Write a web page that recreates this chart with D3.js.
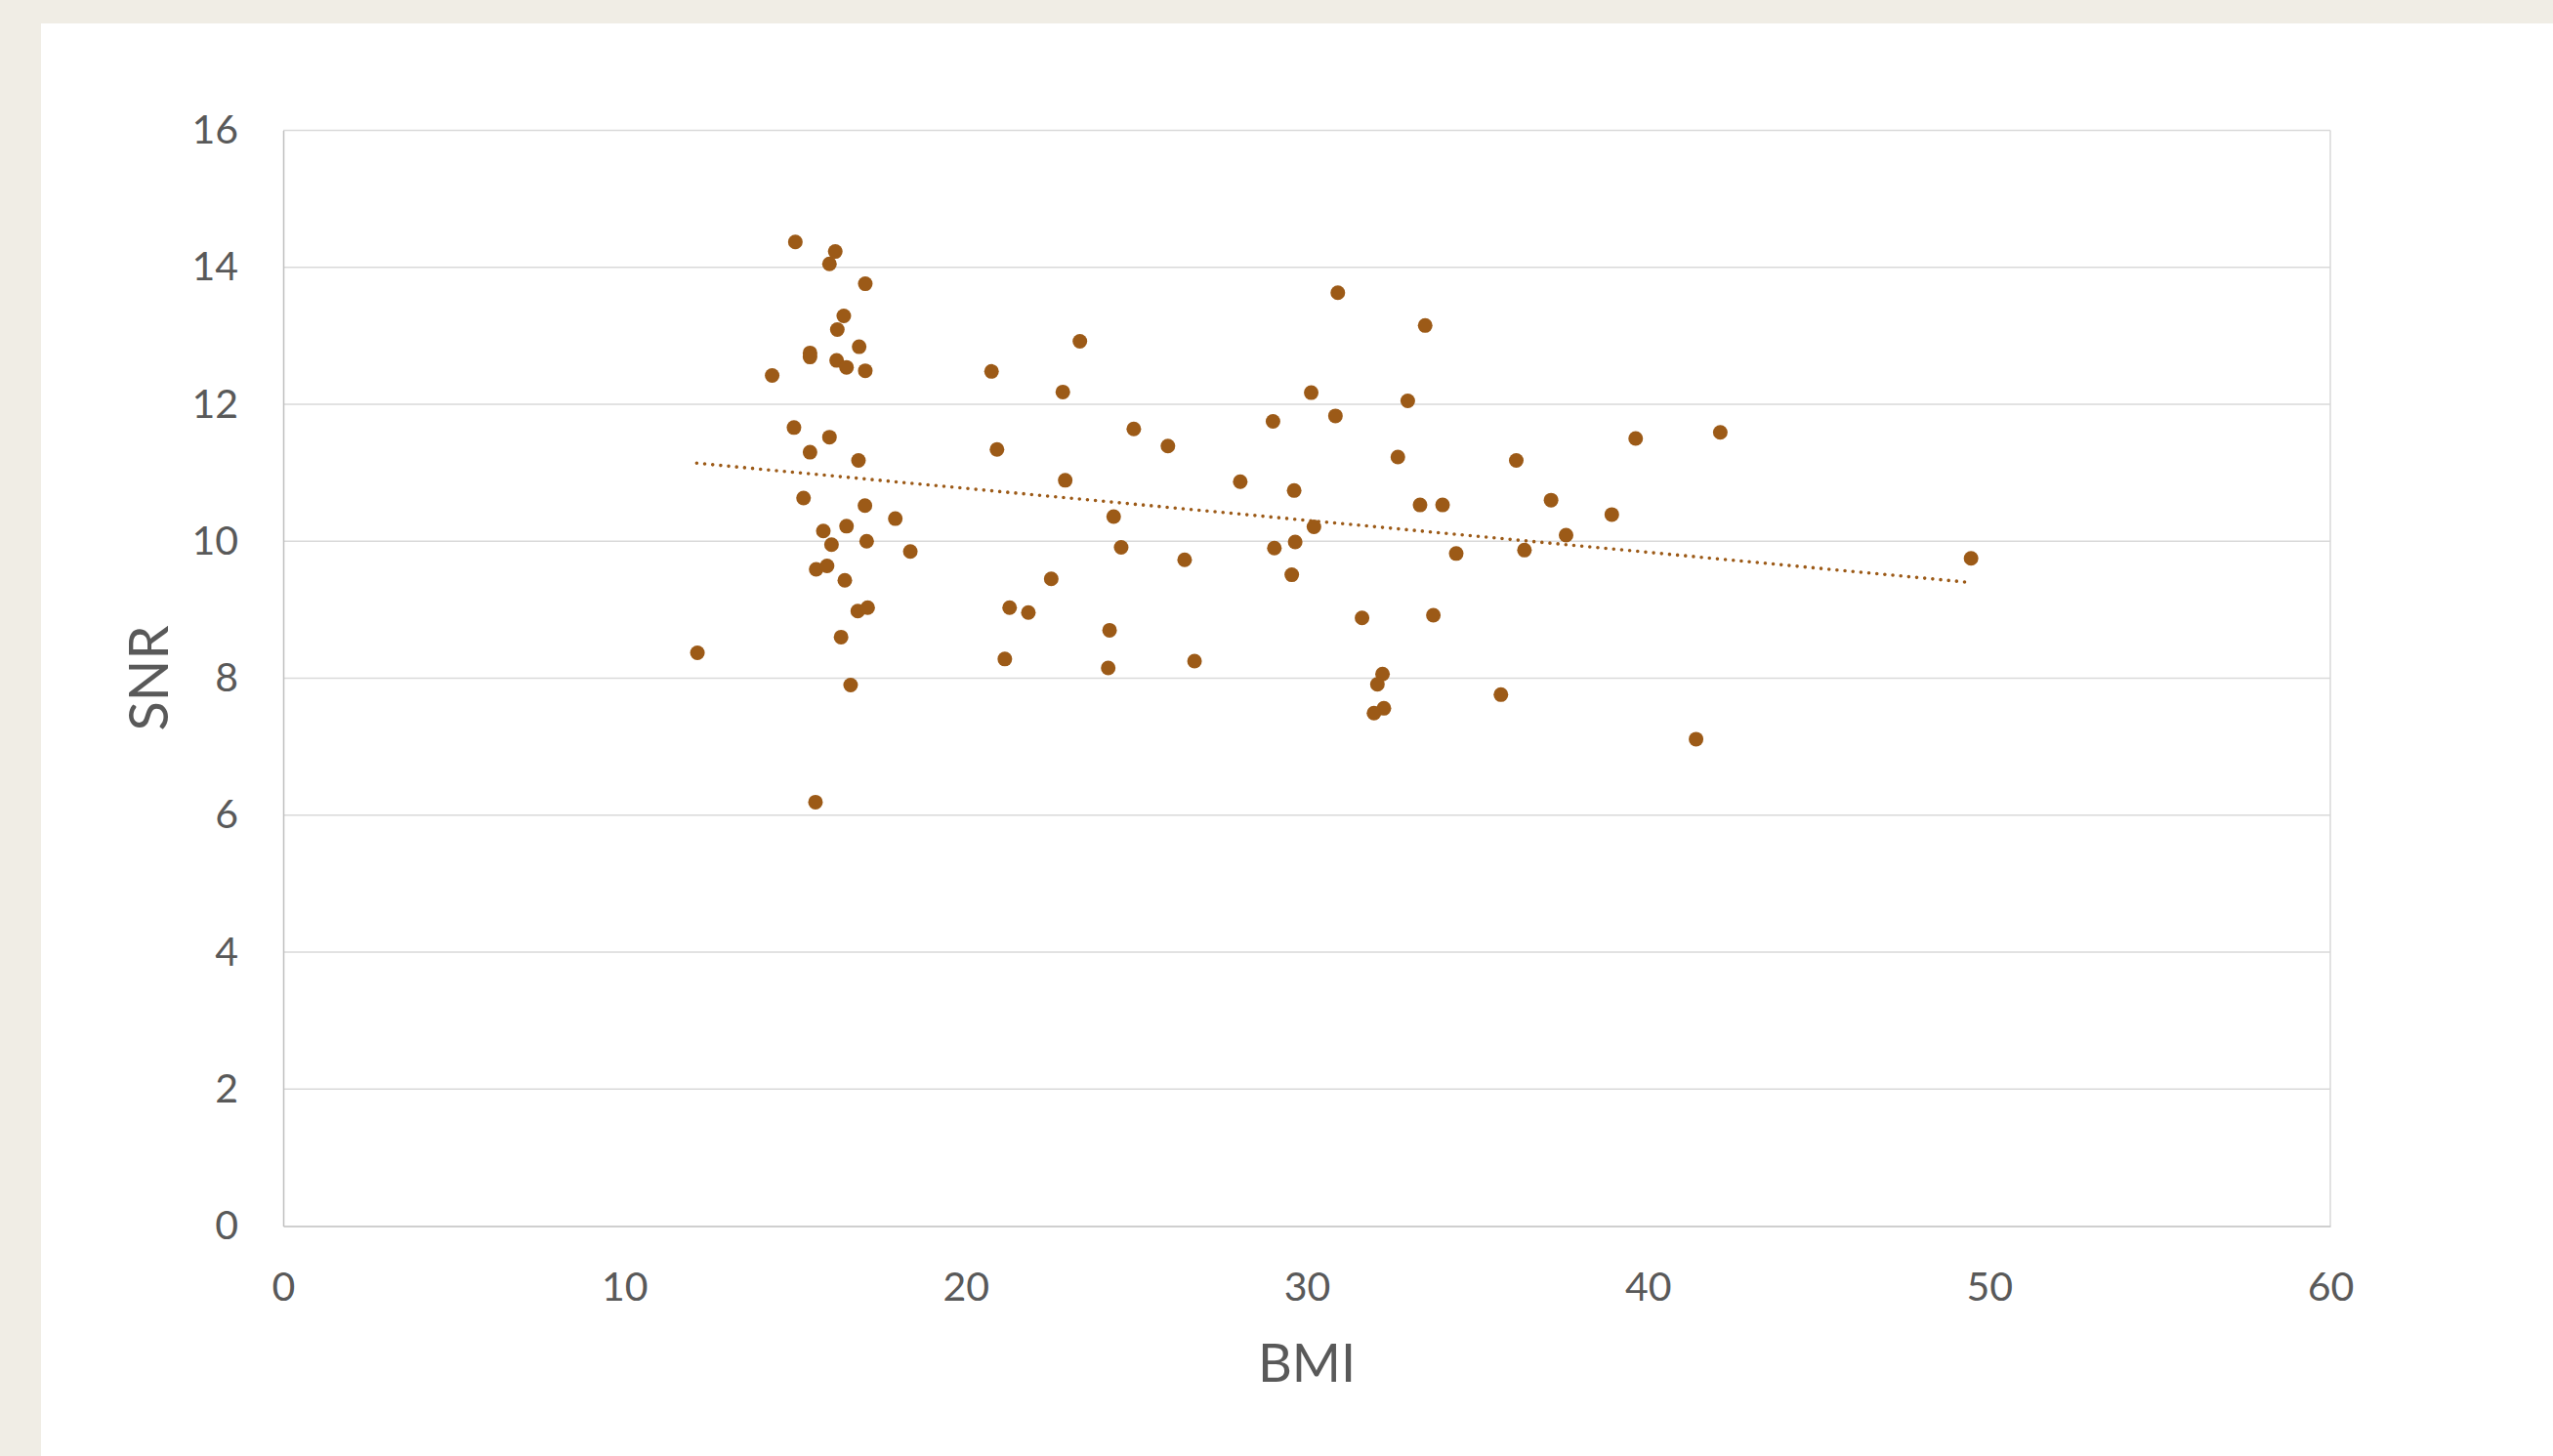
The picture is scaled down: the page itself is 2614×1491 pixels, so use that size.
<!DOCTYPE html>
<html>
<head>
<meta charset="utf-8">
<script src="https://cdn.jsdelivr.net/npm/d3@7"></script>
<style>
  html, body { margin: 0; padding: 0; background: #F0EDE5; }
  svg { display: block; }
</style>
</head>
<body>
<svg id="chart" width="2614" height="1491"></svg>
<script>
// ---- data ----
const bmi = [
  15.01,16.18,16.01,17.06,16.43,16.24,16.88,15.44,15.44,14.33,16.22,16.51,17.06,20.76,14.97,16.01,15.44,16.86,20.92,15.25,
  17.05,17.94,15.83,16.51,16.07,17.10,18.38,15.62,15.94,16.46,16.84,17.13,21.29,21.84,16.35,12.14,21.15,16.63,15.60,
  22.51,23.35,22.85,22.92,24.34,24.56,24.22,24.18,24.93,25.93,26.42,26.71,28.05,29.01,29.05,29.63,29.66,29.56,30.13,30.21,
  30.91,30.84,31.62,32.22,32.07,32.26,31.97,33.47,32.96,32.67,33.32,33.98,34.38,33.71,
  36.14,36.38,37.16,37.60,38.94,39.64,42.12,35.69,41.41,49.47
];
const snr = [
  14.37,14.23,14.05,13.76,13.29,13.09,12.84,12.75,12.69,12.42,12.64,12.54,12.49,12.48,11.66,11.52,11.30,11.18,11.34,10.63,
  10.52,10.33,10.15,10.22,9.95,10.00,9.85,9.59,9.64,9.43,8.98,9.03,9.03,8.96,8.60,8.37,8.28,7.90,6.19,
  9.45,12.92,12.18,10.89,10.36,9.91,8.70,8.15,11.64,11.39,9.73,8.25,10.87,11.75,9.90,10.74,9.99,9.51,12.17,10.21,
  13.63,11.83,8.88,8.06,7.91,7.56,7.49,13.15,12.05,11.23,10.53,10.53,9.82,8.92,
  11.18,9.87,10.60,10.09,10.39,11.50,11.59,7.76,7.11,9.75
];
const trendBMI = [12.12, 49.40];
const trendSNR = [11.14, 9.40];
const xTicks = [0, 10, 20, 30, 40, 50, 60];
const yTicks = [0, 2, 4, 6, 8, 10, 12, 14, 16];
const xTitle = "BMI";
const yTitle = "SNR";

(function () {
  const svg = d3.select("#chart");
  const W = 2614, H = 1491;
  const pLeft = 290, pRight = 2386, pTop = 133.5, pBottom = 1255.5;
  const textColor = "#595959";
  const font = "Lato, 'Open Sans', sans-serif";

  svg.append("rect").attr("x", 0).attr("y", 0).attr("width", W).attr("height", H).attr("fill", "#F0EDE5");
  svg.append("rect").attr("x", 42).attr("y", 24).attr("width", W - 42).attr("height", H - 24).attr("fill", "#FFFFFF");

  const x = d3.scaleLinear().domain([0, 60]).range([pLeft, pRight]);
  const y = d3.scaleLinear().domain([0, 16]).range([pBottom, pTop]);

  // gridlines
  svg.append("g")
    .selectAll("line")
    .data(yTicks.filter(d => d > 0))
    .join("line")
    .attr("x1", pLeft).attr("x2", pRight)
    .attr("y1", d => y(d)).attr("y2", d => y(d))
    .attr("stroke", "#D9D9D9").attr("stroke-width", 1.5);

  // right border
  svg.append("line")
    .attr("x1", pRight).attr("x2", pRight).attr("y1", pTop).attr("y2", pBottom)
    .attr("stroke", "#D9D9D9").attr("stroke-width", 1.5);

  // axes
  const yAxis = d3.axisLeft(y).tickValues(yTicks).tickSize(0).tickPadding(46).tickFormat(d3.format("d"));
  const gy = svg.append("g").attr("transform", `translate(${pLeft},0)`).call(yAxis);
  gy.select(".domain").attr("stroke", "#BFBFBF").attr("stroke-width", 1.5);
  gy.selectAll("text").attr("fill", textColor).style("font-family", font).style("font-size", "41px");

  const xAxis = d3.axisBottom(x).tickValues(xTicks).tickSize(0).tickPadding(47).tickFormat(d3.format("d"));
  const gx = svg.append("g").attr("transform", `translate(0,${pBottom})`).call(xAxis);
  gx.select(".domain").attr("stroke", "#BFBFBF").attr("stroke-width", 1.5);
  gx.selectAll("text").attr("fill", textColor).style("font-family", font).style("font-size", "41px");

  // points
  const pts = bmi.map((b, i) => ({ b, s: snr[i] }));
  svg.append("g")
    .selectAll("circle")
    .data(pts)
    .join("circle")
    .attr("cx", d => x(d.b))
    .attr("cy", d => y(d.s))
    .attr("r", 7.5)
    .attr("fill", "#9C5A17");

  // trendline
  const line = d3.line().x(d => x(d[0])).y(d => y(d[1]));
  svg.append("path")
    .datum(trendBMI.map((b, i) => [b, trendSNR[i]]))
    .attr("d", line)
    .attr("fill", "none")
    .attr("stroke", "#9C5A17")
    .attr("stroke-width", 3.6)
    .attr("stroke-linecap", "round")
    .attr("stroke-dasharray", "0 8.2");

  // axis titles
  svg.append("text")
    .attr("x", (pLeft + pRight) / 2).attr("y", 1415)
    .attr("text-anchor", "middle")
    .attr("fill", textColor).style("font-family", font).style("font-size", "54px")
    .text(xTitle);

  svg.append("text")
    .attr("transform", `translate(172,${(pTop + pBottom) / 2}) rotate(-90)`)
    .attr("text-anchor", "middle")
    .attr("fill", textColor).style("font-family", font).style("font-size", "56px")
    .text(yTitle);
})();
</script>
</body>
</html>
